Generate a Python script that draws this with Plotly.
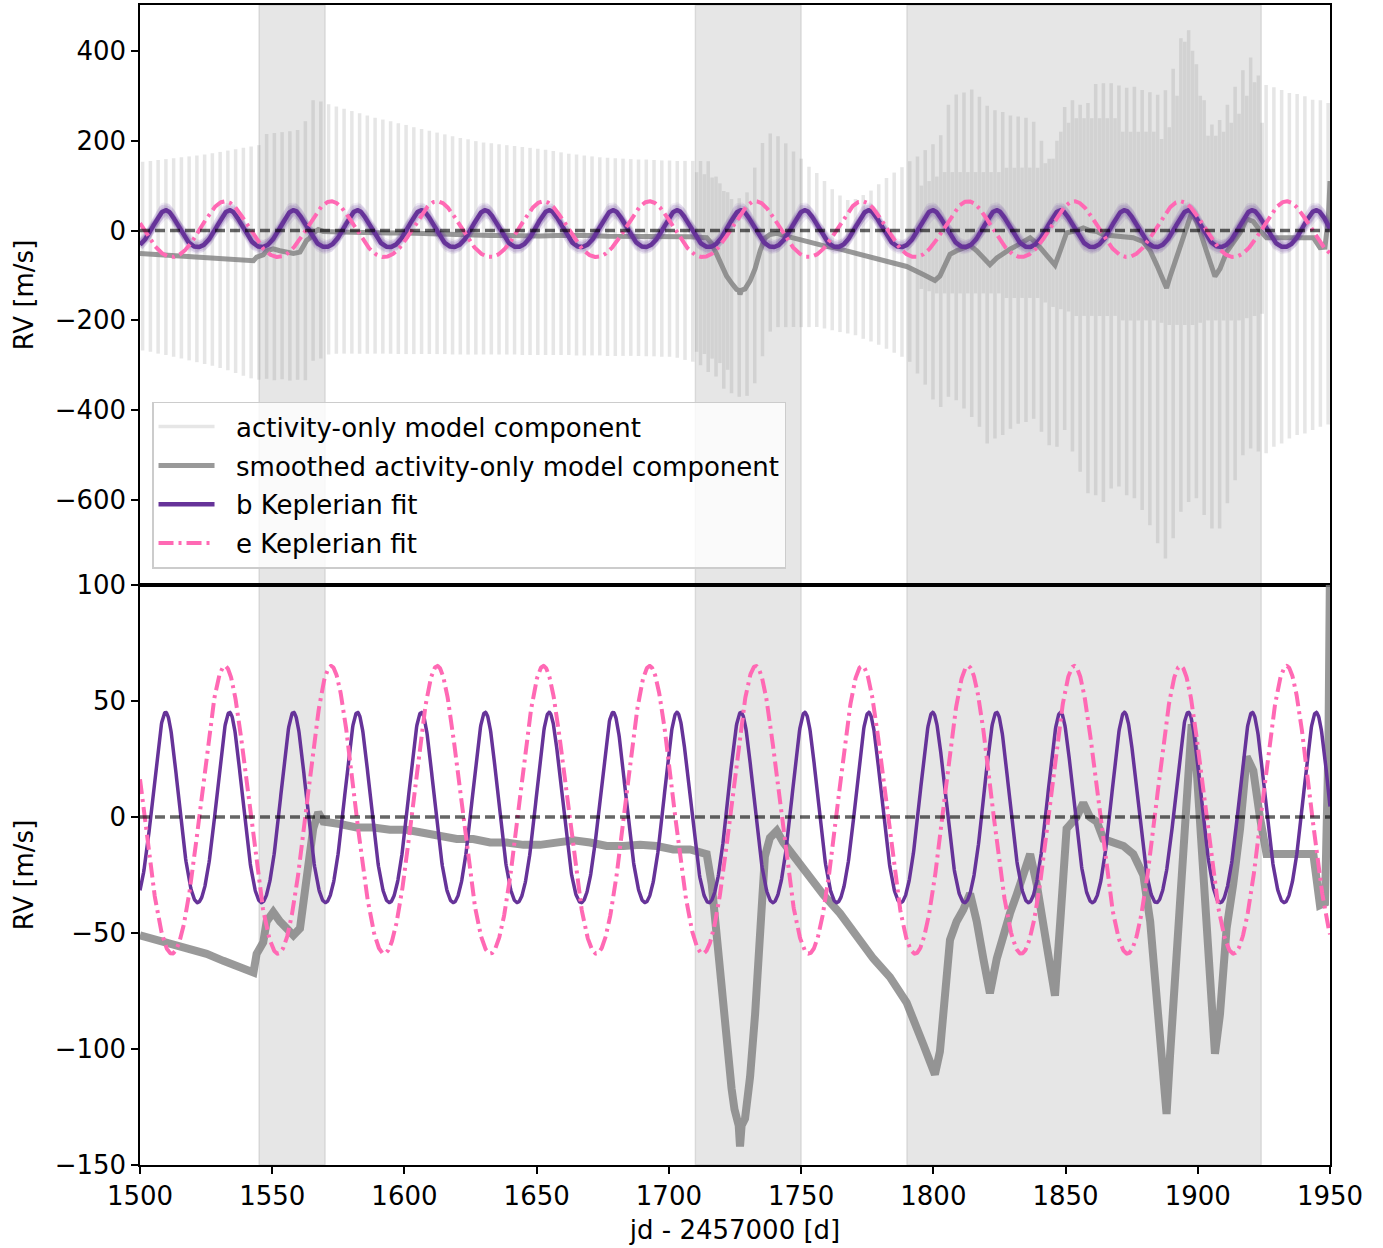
import numpy as np
import plotly.graph_objects as go
from plotly.subplots import make_subplots

# ---------------------------------------------------------------------------
# Activity-only model component: one spike per sample, top and bottom value
# ---------------------------------------------------------------------------
act_t0 = 1501.0
act_step = 2.93
act_top = [153, 155, 157, 159, 161, 163, 165, 167, 169, 172,
           175, 178, 181, 184, 187, 190, 215, 217, 219, 221,
           224, 243, 290, 287, 281, 276, 271, 266, 261, 256,
           251, 247, 243, 239, 235, 230, 226, 222, 218, 214,
           210, 206, 203, 199, 196, 194, 192, 190, 188, 186,
           184, 182, 180, 177, 174, 171, 169, 167, 165, 163,
           162, 161, 160, 159, 158, 158, 157, 156, 156, 155,
           155, 155, 155, 154, 120, 88, 70, 72, 85, 140,
           195, 216, 210, 194, 176, 160, 142, 128, 110, 92,
           78, 68, 70, 79, 89, 103, 117, 129, 141, 154,
           165, 179, 192, 212, 280, 303, 307, 314, 298, 278,
           268, 264, 256, 254, 251, 242, 200, 160, 200, 275,
           290, 280, 284, 326, 328, 328, 323, 318, 320, 313,
           308, 302, 312, 360, 428, 446, 370, 290, 236, 246,
           280, 320, 357, 385, 345, 324, 319, 313, 306, 304,
           299, 291, 290, 284]
act_bot = [-267, -270, -274, -277, -281, -285, -289, -293, -297, -301,
           -306, -311, -317, -323, -329, -332, -330, -333, -331, -334,
           -332, -333, -290, -285, -276, -274, -274, -274, -274, -274,
           -274, -274, -274, -275, -275, -275, -275, -275, -275, -275,
           -276, -276, -276, -276, -276, -276, -276, -276, -276, -277,
           -277, -277, -277, -277, -277, -277, -278, -278, -278, -278,
           -279, -279, -279, -279, -279, -280, -280, -281, -281, -283,
           -288, -292, -300, -315, -325, -352, -362, -370, -368, -340,
           -280, -225, -215, -215, -215, -215, -215, -215, -218, -222,
           -226, -229, -233, -241, -247, -254, -263, -272, -281, -292,
           -318, -343, -376, -393, -370, -378, -396, -415, -437, -474,
           -463, -455, -441, -430, -426, -419, -448, -478, -481, -444,
           -492, -537, -585, -589, -604, -574, -570, -589, -596, -622,
           -656, -696, -730, -685, -626, -604, -596, -633, -663, -663,
           -607, -556, -500, -485, -492, -496, -481, -474, -463, -455,
           -452, -444, -437, -432]

# extra half-step spikes where the activity signal is denser
inner_idx = [71, 72, 73, 74, 75] + list(range(100, 145))
inner_top = [130, 125, 118, 105, 85,
             100, 110, 120, 130, 130, 130, 130, 130, 130, 130,
             130, 140, 140, 140, 140, 140, 150, 160, 220, 240,
             250, 250, 250, 250, 250, 250, 220, 220, 220, 220,
             220, 204, 230, 300, 420, 400, 300, 211, 211, 220,
             240, 260, 300, 330, 240]
inner_bot = [-270, -275, -285, -295, -310,
             -130, -135, -140, -140, -140, -140, -140, -140, -140, -140,
             -140, -150, -150, -150, -150, -150, -160, -170, -175, -180,
             -190, -190, -190, -190, -190, -190, -200, -200, -200, -200,
             -200, -205, -210, -210, -210, -210, -205, -200, -200, -200,
             -200, -200, -195, -190, -185]

# ---------------------------------------------------------------------------
# Smoothed activity-only model component
# ---------------------------------------------------------------------------
smooth_t = [1500, 1506.3, 1512.6, 1518.9, 1525.2, 1531.5, 1537.8, 1542.9, 1544.1, 1546.6,
            1547.9, 1550.4, 1552.9, 1555.5, 1558, 1560.5, 1561.8, 1563, 1564.3, 1565.5,
            1567.4, 1569.3, 1575.6, 1581.9, 1588.2, 1594.5, 1600.8, 1607.1, 1613.4, 1619.8,
            1626, 1632.4, 1638.7, 1645, 1651.3, 1657.6, 1663.9, 1670.2, 1676.5, 1682.8,
            1689.1, 1695.4, 1701.7, 1708, 1714.3, 1716.2, 1718.1, 1720, 1721.8, 1723.7,
            1724.8, 1725.6, 1726.4, 1726.9, 1727.5, 1728.8, 1730.7, 1732.6, 1734.5, 1736.3,
            1738.2, 1740.8, 1743.3,
            1747.1, 1752.1, 1758.4, 1764.7, 1771, 1777.3, 1783.6, 1789.9, 1796.2, 1798.7,
            1800.6, 1802.5, 1804.4, 1806.3, 1808.8, 1811.3, 1813.9, 1816.4, 1818.9, 1821.4,
            1824, 1826.5, 1829, 1831.5, 1834, 1836.6, 1839.1, 1841.6, 1844.1, 1846,
            1848, 1850.4, 1854.2, 1856.7, 1859.2, 1861.8, 1864.3, 1868.1, 1871.9, 1875.6,
            1879.4, 1882, 1884.5, 1887, 1888.2, 1889.5, 1892, 1894.5, 1896.4, 1897.7,
            1899.6, 1902.1, 1904.6, 1906.5, 1908.4, 1910.9, 1913.4, 1916, 1918.5, 1921,
            1923.5, 1926, 1931.1, 1937.4, 1943.7, 1946.2, 1948.1, 1949.4, 1950]
smooth_rv = [-51, -53, -55, -57, -59, -62, -65, -67, -59, -54,
             -45, -41, -45, -48, -51, -48, -37, -22, -16, -5,
             2, -2, -3, -4.5, -4.5, -5.5, -5.5, -7, -8, -9.5,
             -9.5, -11, -11, -12, -12, -11, -10, -11, -12.5, -12.5,
             -12, -12.5, -14, -14, -16, -29, -53, -77, -101, -117,
             -126, -131, -133, -142, -133, -130, -112, -85, -45, -17,
             -9, -6, -11,
             -17, -25, -33.5, -41.5, -51, -61, -69, -80, -98, -106,
             -111, -101, -77, -53, -45, -40, -33, -45, -61, -76,
             -61, -50, -41.5, -33.5, -25, -16, -29, -45, -64, -77,
             -45, -5, 0, 6, 0, -2, -9.5, -11, -12.5, -16,
             -25, -45, -77, -109, -128, -103, -61, -13, 20, 40,
             20, -21, -69, -102, -85, -48, -29, -5, 26, 20,
             0, -16, -16, -16, -16, -38, -37, 30, 110]

# ---------------------------------------------------------------------------
# Keplerian fits (period [d], semi-amplitude [m/s], eccentricity, omega, t_peri)
# ---------------------------------------------------------------------------
b_params = dict(period=24.17, k=41.0, ecc=0.1, omega=0.0, t_peri=1509.7)
e_params = dict(period=40.15, k=62.0, ecc=0.05, omega=0.0, t_peri=1532.1)

# posterior-sample spread drawn around planet b in the upper panel
haze_dk = [-9, -6, -4, -2, 2, 4, 6, 9]
haze_dt = [0.6, -0.5, 0.3, -0.2, 0.4, -0.6, 0.2, -0.3]

gaps = [(1545, 1570), (1710, 1750), (1790, 1924)]

x_range = [1500, 1950]
x_ticks = [1500, 1550, 1600, 1650, 1700, 1750, 1800, 1850, 1900, 1950]
top_range = [-789, 502]
top_ticks = [-600, -400, -200, 0, 200, 400]
bot_range = [-150, 100]
bot_ticks = [-150, -100, -50, 0, 50, 100]


def keplerian(t, period, k, ecc, omega, t_peri):
    mean_anom = 2 * np.pi * (t - t_peri) / period
    ecc_anom = mean_anom.copy()
    for _ in range(30):
        ecc_anom = ecc_anom - (ecc_anom - ecc * np.sin(ecc_anom) - mean_anom) / (1 - ecc * np.cos(ecc_anom))
    nu = 2 * np.arctan2(np.sqrt(1 + ecc) * np.sin(ecc_anom / 2),
                        np.sqrt(1 - ecc) * np.cos(ecc_anom / 2))
    return k * (np.cos(nu + omega) + ecc * np.cos(omega))


t_model = np.linspace(x_range[0], x_range[1], 3000)
rv_b = keplerian(t_model, **b_params)
rv_e = keplerian(t_model, **e_params)

act_t = act_t0 + act_step * np.arange(len(act_top))
spike_x, spike_y = [], []
for t, hi, lo in zip(act_t, act_top, act_bot):
    spike_x += [t, t, None]
    spike_y += [hi, lo, None]
inner_x, inner_y = [], []
for idx, hi, lo in zip(inner_idx, inner_top, inner_bot):
    t = act_t[idx] + act_step / 2
    inner_x += [t, t, None]
    inner_y += [hi, lo, None]

PURPLE = "#663399"
PINK = "#ff69b4"
LIGHT = "rgba(128,128,128,0.2)"
SMOOTH = "rgba(128,128,128,0.8)"
ZERO = "rgba(0,0,0,0.6)"
DASHDOT = "15px,5px,3px,5px"
PAD = "\u00a0\u00a0"

fig = make_subplots(rows=2, cols=1, shared_xaxes=True, vertical_spacing=0)

# ----- upper panel -----
fig.add_trace(go.Scatter(x=spike_x, y=spike_y, mode="lines", connectgaps=False,
                         line=dict(color=LIGHT, width=3.5),
                         name=PAD + "activity-only model component", legendgroup="a"), row=1, col=1)
fig.add_trace(go.Scatter(x=inner_x, y=inner_y, mode="lines", connectgaps=False,
                         line=dict(color=LIGHT, width=3.5), showlegend=False,
                         hoverinfo="skip"), row=1, col=1)
fig.add_trace(go.Scatter(x=smooth_t, y=smooth_rv, mode="lines",
                         line=dict(color=SMOOTH, width=5),
                         name=PAD + "smoothed activity-only model component", legendgroup="s"), row=1, col=1)
for dk, dt in zip(haze_dk, haze_dt):
    p = dict(b_params)
    p["k"] = b_params["k"] + dk
    p["t_peri"] = b_params["t_peri"] + dt
    fig.add_trace(go.Scatter(x=t_model, y=keplerian(t_model, **p), mode="lines",
                             line=dict(color="rgba(102,51,153,0.09)", width=7),
                             showlegend=False, hoverinfo="skip"), row=1, col=1)
fig.add_trace(go.Scatter(x=t_model, y=rv_b, mode="lines",
                         line=dict(color=PURPLE, width=4.5),
                         name=PAD + "b Keplerian fit", legendgroup="b"), row=1, col=1)
fig.add_trace(go.Scatter(x=t_model, y=rv_e, mode="lines",
                         line=dict(color=PINK, width=4, dash=DASHDOT),
                         name=PAD + "e Keplerian fit", legendgroup="e"), row=1, col=1)
fig.add_trace(go.Scatter(x=x_range, y=[0, 0], mode="lines",
                         line=dict(color=ZERO, width=3.5, dash="10px,5px"),
                         showlegend=False, hoverinfo="skip"), row=1, col=1)

# ----- lower panel -----
fig.add_trace(go.Scatter(x=smooth_t, y=smooth_rv, mode="lines",
                         line=dict(color=SMOOTH, width=8), showlegend=False), row=2, col=1)
fig.add_trace(go.Scatter(x=t_model, y=rv_b, mode="lines",
                         line=dict(color=PURPLE, width=3.5), showlegend=False), row=2, col=1)
fig.add_trace(go.Scatter(x=t_model, y=rv_e, mode="lines",
                         line=dict(color=PINK, width=4, dash=DASHDOT), showlegend=False), row=2, col=1)
fig.add_trace(go.Scatter(x=x_range, y=[0, 0], mode="lines",
                         line=dict(color=ZERO, width=3.5, dash="10px,5px"),
                         showlegend=False, hoverinfo="skip"), row=2, col=1)

# observing gaps shaded across both panels
for x0, x1 in gaps:
    fig.add_shape(type="rect", xref="x", yref="paper", x0=x0, x1=x1, y0=0, y1=1,
                  fillcolor="rgba(128,128,128,0.2)",
                  line=dict(color="rgba(128,128,128,0.2)", width=1.5), layer="below")

axis_common = dict(showline=True, linecolor="black", linewidth=1.5, mirror=True,
                   showgrid=False, zeroline=False, tickcolor="black", tickwidth=1.5,
                   ticklen=7, automargin=False, tickfont=dict(size=26))
fig.update_xaxes(range=x_range, **axis_common)
fig.update_xaxes(ticks="", showticklabels=False, row=1, col=1)
fig.update_xaxes(ticks="outside", tickvals=x_ticks,
                 title=dict(text="jd - 2457000 [d]", standoff=11, font=dict(size=26)), row=2, col=1)
fig.update_yaxes(**axis_common)
fig.update_yaxes(range=top_range, tickvals=top_ticks, ticks="outside",
                 title=dict(text="RV [m/s]", standoff=14, font=dict(size=26)), row=1, col=1)
fig.update_yaxes(range=bot_range, tickvals=bot_ticks, ticks="outside",
                 title=dict(text="RV [m/s]", standoff=14, font=dict(size=26)), row=2, col=1)

fig.update_layout(
    width=1383, height=1248,
    margin=dict(l=140, r=53, t=5, b=83),
    plot_bgcolor="white", paper_bgcolor="white",
    font=dict(family="DejaVu Sans", size=26, color="black"),
    legend=dict(x=0.0101, y=0.658, xanchor="left", yanchor="top",
                bgcolor="rgba(255,255,255,0.8)", bordercolor="#cccccc", borderwidth=1.5,
                itemwidth=56, tracegroupgap=2, font=dict(size=26)),
    showlegend=True,
)

fig.write_html("out.html")
